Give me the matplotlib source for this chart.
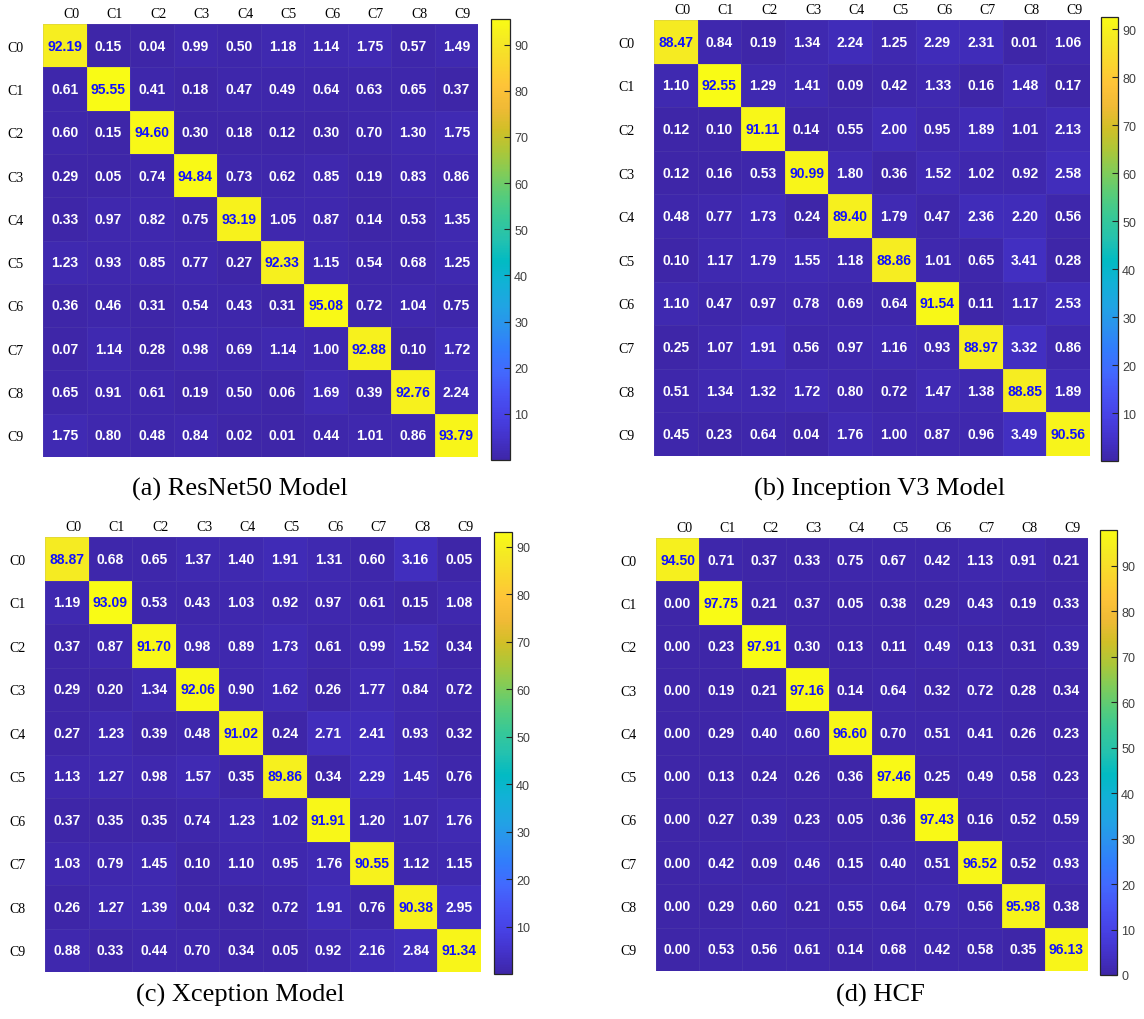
import numpy as np
import matplotlib.pyplot as plt
from matplotlib.colors import LinearSegmentedColormap

classes = ['C0', 'C1', 'C2', 'C3', 'C4', 'C5', 'C6', 'C7', 'C8', 'C9']

resnet50 = [
    [92.19, 0.15, 0.04, 0.99, 0.50, 1.18, 1.14, 1.75, 0.57, 1.49],
    [0.61, 95.55, 0.41, 0.18, 0.47, 0.49, 0.64, 0.63, 0.65, 0.37],
    [0.60, 0.15, 94.60, 0.30, 0.18, 0.12, 0.30, 0.70, 1.30, 1.75],
    [0.29, 0.05, 0.74, 94.84, 0.73, 0.62, 0.85, 0.19, 0.83, 0.86],
    [0.33, 0.97, 0.82, 0.75, 93.19, 1.05, 0.87, 0.14, 0.53, 1.35],
    [1.23, 0.93, 0.85, 0.77, 0.27, 92.33, 1.15, 0.54, 0.68, 1.25],
    [0.36, 0.46, 0.31, 0.54, 0.43, 0.31, 95.08, 0.72, 1.04, 0.75],
    [0.07, 1.14, 0.28, 0.98, 0.69, 1.14, 1.00, 92.88, 0.10, 1.72],
    [0.65, 0.91, 0.61, 0.19, 0.50, 0.06, 1.69, 0.39, 92.76, 2.24],
    [1.75, 0.80, 0.48, 0.84, 0.02, 0.01, 0.44, 1.01, 0.86, 93.79],
]

inception_v3 = [
    [88.47, 0.84, 0.19, 1.34, 2.24, 1.25, 2.29, 2.31, 0.01, 1.06],
    [1.10, 92.55, 1.29, 1.41, 0.09, 0.42, 1.33, 0.16, 1.48, 0.17],
    [0.12, 0.10, 91.11, 0.14, 0.55, 2.00, 0.95, 1.89, 1.01, 2.13],
    [0.12, 0.16, 0.53, 90.99, 1.80, 0.36, 1.52, 1.02, 0.92, 2.58],
    [0.48, 0.77, 1.73, 0.24, 89.40, 1.79, 0.47, 2.36, 2.20, 0.56],
    [0.10, 1.17, 1.79, 1.55, 1.18, 88.86, 1.01, 0.65, 3.41, 0.28],
    [1.10, 0.47, 0.97, 0.78, 0.69, 0.64, 91.54, 0.11, 1.17, 2.53],
    [0.25, 1.07, 1.91, 0.56, 0.97, 1.16, 0.93, 88.97, 3.32, 0.86],
    [0.51, 1.34, 1.32, 1.72, 0.80, 0.72, 1.47, 1.38, 88.85, 1.89],
    [0.45, 0.23, 0.64, 0.04, 1.76, 1.00, 0.87, 0.96, 3.49, 90.56],
]

xception = [
    [88.87, 0.68, 0.65, 1.37, 1.40, 1.91, 1.31, 0.60, 3.16, 0.05],
    [1.19, 93.09, 0.53, 0.43, 1.03, 0.92, 0.97, 0.61, 0.15, 1.08],
    [0.37, 0.87, 91.70, 0.98, 0.89, 1.73, 0.61, 0.99, 1.52, 0.34],
    [0.29, 0.20, 1.34, 92.06, 0.90, 1.62, 0.26, 1.77, 0.84, 0.72],
    [0.27, 1.23, 0.39, 0.48, 91.02, 0.24, 2.71, 2.41, 0.93, 0.32],
    [1.13, 1.27, 0.98, 1.57, 0.35, 89.86, 0.34, 2.29, 1.45, 0.76],
    [0.37, 0.35, 0.35, 0.74, 1.23, 1.02, 91.91, 1.20, 1.07, 1.76],
    [1.03, 0.79, 1.45, 0.10, 1.10, 0.95, 1.76, 90.55, 1.12, 1.15],
    [0.26, 1.27, 1.39, 0.04, 0.32, 0.72, 1.91, 0.76, 90.38, 2.95],
    [0.88, 0.33, 0.44, 0.70, 0.34, 0.05, 0.92, 2.16, 2.84, 91.34],
]

hcf = [
    [94.50, 0.71, 0.37, 0.33, 0.75, 0.67, 0.42, 1.13, 0.91, 0.21],
    [0.00, 97.75, 0.21, 0.37, 0.05, 0.38, 0.29, 0.43, 0.19, 0.33],
    [0.00, 0.23, 97.91, 0.30, 0.13, 0.11, 0.49, 0.13, 0.31, 0.39],
    [0.00, 0.19, 0.21, 97.16, 0.14, 0.64, 0.32, 0.72, 0.28, 0.34],
    [0.00, 0.29, 0.40, 0.60, 96.60, 0.70, 0.51, 0.41, 0.26, 0.23],
    [0.00, 0.13, 0.24, 0.26, 0.36, 97.46, 0.25, 0.49, 0.58, 0.23],
    [0.00, 0.27, 0.39, 0.23, 0.05, 0.36, 97.43, 0.16, 0.52, 0.59],
    [0.00, 0.42, 0.09, 0.46, 0.15, 0.40, 0.51, 96.52, 0.52, 0.93],
    [0.00, 0.29, 0.60, 0.21, 0.55, 0.64, 0.79, 0.56, 95.98, 0.38],
    [0.00, 0.53, 0.56, 0.61, 0.14, 0.68, 0.42, 0.58, 0.35, 96.13],
]

titles = ['(a) ResNet50 Model', '(b) Inception V3 Model',
          '(c) Xception Model', '(d) HCF']

# parula-like colormap
parula = LinearSegmentedColormap.from_list('parula', [
    (0.2422, 0.1504, 0.6603), (0.2647, 0.1978, 0.7952),
    (0.2783, 0.2559, 0.8991), (0.2810, 0.3228, 0.9579),
    (0.2602, 0.4123, 0.9952), (0.1963, 0.4847, 0.9892),
    (0.1687, 0.5703, 0.9359), (0.1248, 0.6459, 0.8883),
    (0.0689, 0.6948, 0.8394), (0.0067, 0.7312, 0.7660),
    (0.1408, 0.7584, 0.6842), (0.2161, 0.7843, 0.5923),
    (0.3406, 0.8008, 0.4789), (0.5044, 0.7993, 0.3480),
    (0.6720, 0.7793, 0.2227), (0.8203, 0.7498, 0.1535),
    (0.9393, 0.7288, 0.2100), (0.9970, 0.7659, 0.2199),
    (0.9786, 0.8386, 0.1766), (0.9597, 0.9135, 0.1423),
    (0.9769, 0.9839, 0.0805)])

W, H = 1144, 1020
fig = plt.figure(figsize=(W / 100, H / 100), dpi=100)


def rect(x0, y0, x1, y1):
    return [x0 / W, 1 - y1 / H, (x1 - x0) / W, (y1 - y0) / H]


# pixel boxes: heatmap, colorbar, title centre
panels = [
    ((43, 25, 478, 458), (491, 20, 510, 461), (240, 489)),
    ((654, 21, 1090, 457), (1101, 18, 1118, 462), (880, 489)),
    ((45, 538, 481, 973), (494, 533, 512, 975), (240, 995)),
    ((656, 539, 1088, 972), (1100, 531, 1117, 976), (880, 995)),
]

for data, title, (hm, cb, tpos) in zip([resnet50, inception_v3, xception, hcf],
                                       titles, panels):
    m = np.array(data)
    ax = fig.add_axes(rect(*hm))
    mesh = ax.pcolormesh(m, cmap=parula, vmin=m.min(), vmax=m.max(),
                         edgecolors=(0.5, 0.45, 0.7, 0.15), linewidth=0.6)
    ax.set_xlim(0, 10)
    ax.set_ylim(10, 0)
    for i in range(10):
        for j in range(10):
            diag = i == j
            ax.text(j + 0.5, i + 0.5, f'{m[i, j]:.2f}', ha='center', va='center',
                    color='#1010ff' if diag else 'white', fontsize=10,
                    fontweight='bold', family='Liberation Sans')
    ax.xaxis.tick_top()
    ax.set_xticks(np.arange(10) + 0.65)
    ax.set_xticklabels(classes, family='Liberation Serif', fontsize=10)
    ax.set_yticks(np.arange(10) + 0.5)
    ax.set_yticklabels(classes, family='Liberation Serif', fontsize=10)
    ax.tick_params(length=0, pad=3)
    ax.tick_params(axis='y', pad=14)
    for s in ax.spines.values():
        s.set_visible(False)

    cax = fig.add_axes(rect(*cb))
    bar = fig.colorbar(mesh, cax=cax)
    bar.set_ticks(np.arange(0, 100, 10) if m.min() == 0 else np.arange(10, 100, 10))
    cax.tick_params(direction='in', length=4, width=0.8, labelsize=9,
                    colors='#262626', labelcolor='#404040', pad=3)
    for lbl in cax.get_yticklabels():
        lbl.set_family('Liberation Sans')
    bar.outline.set_linewidth(0.9)
    bar.outline.set_edgecolor('#262626')

    fig.text(tpos[0] / W, 1 - tpos[1] / H, title, ha='center', va='center',
             family='Liberation Serif', fontsize=19)

fig.savefig('out.png', dpi=100)
